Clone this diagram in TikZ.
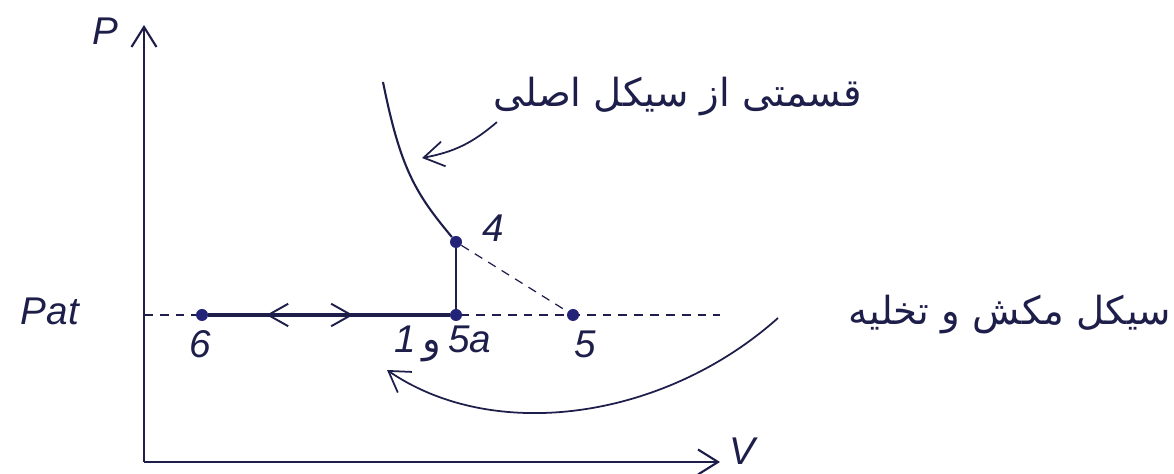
\documentclass[tikz,border=0pt]{standalone}
\usepackage{fontspec}
\setsansfont{Liberation Sans}
\newfontfamily\persianfont[Script=Arabic]{DejaVu Sans}
\TeXXeTstate=1
\usetikzlibrary{arrows.meta,decorations.markings}
\definecolor{ink}{RGB}{30,30,75}
\definecolor{dotblue}{RGB}{35,35,120}

\begin{document}
\begin{tikzpicture}
  \tikzstyle{dot}=[circle, fill=dotblue, inner sep=0pt, minimum size=2.4mm]
  \tikzstyle{lbl}=[font=\fontsize{22}{26}\selectfont\sffamily\itshape, text=ink]
  \tikzstyle{fa}=[font=\fontsize{22}{26}\selectfont\persianfont, text=ink]
  \tikzstyle{barb}=[-{Straight Barb[length=4mm,width=5mm]}]
  \useasboundingbox (0,0) rectangle (23.48,9.48);

  % axes
  \coordinate (O) at (2.88,0.24);
  \coordinate (ptop) at (2.88,8.98);
  \coordinate (vend) at (14.4,0.24);
  \draw[ink, line width=1.2pt, barb] (O) -- (ptop);
  \draw[ink, line width=1.2pt, barb] (O) -- (vend);
  \node[lbl] (plbl) at (2.1,8.85) {P};
  \node[lbl] (vlbl) at (14.85,0.45) {V};

  % atmospheric line
  \coordinate (pa) at (2.88,3.18);
  \coordinate (paend) at (14.4,3.18);
  \draw[ink, line width=0.7pt, dash pattern=on 5pt off 4pt] (pa) -- (paend);
  \node[lbl] (patlbl) at (1.0,3.25) {Pat};

  % state points
  \node[dot] (p6) at (4.04,3.18) {};
  \node[dot] (p5a) at (9.12,3.18) {};
  \node[dot] (p4) at (9.12,4.64) {};
  \node[dot] (p5) at (11.46,3.18) {};
  \node[lbl] (l6) at (4.0,2.6) {6};
  \node[lbl] (l5a) at (8.86,2.6) {1\,{\persianfont\upshape و}\,5a};
  \node[lbl] (l5) at (11.7,2.6) {5};
  \node[lbl] (l4) at (9.86,4.92) {4};

  % intake / exhaust strokes
  \draw[ink, line width=1.8pt, postaction={decorate},
        decoration={markings,
          mark=at position 0.24 with {\arrowreversed[line width=1.1pt]{Straight Barb[length=4mm,width=4.5mm]}},
          mark=at position 0.6 with {\arrow[line width=1.1pt]{Straight Barb[length=4mm,width=4.5mm]}}}]
    (p6) -- (p5a);
  \draw[ink, line width=1.5pt] (p5a) -- (p4);
  \draw[ink, line width=0.7pt, dash pattern=on 5pt off 4pt] (p4) -- (p5);

  % expansion curve
  \coordinate (ctop) at (7.66,7.84);
  \draw[ink, line width=1.2pt] (ctop) .. controls (8.01,6.09) and (8.32,5.6) .. (p4);

  % labels in persian
  \node[fa] (mainlbl) at (13.55,7.55) {\beginR قسمتی از سیکل اصلی\endR};
  \node[fa] (cyclbl) at (20.2,3.18) {\beginR سیکل مکش و تخلیه\endR};
  \coordinate (tip1) at (8.44,6.32);
  \draw[ink, line width=1pt, barb] ([shift={(0.2,0)}]mainlbl.south west) to[bend left=15] (tip1);

  \coordinate (ret) at (15.56,3.12);
  \coordinate (tip2) at (7.74,2.08);
  \draw[ink, line width=1pt, barb] (ret) .. controls (13.3,1.1) and (9.9,0.6) .. (tip2);
\end{tikzpicture}
\end{document}
